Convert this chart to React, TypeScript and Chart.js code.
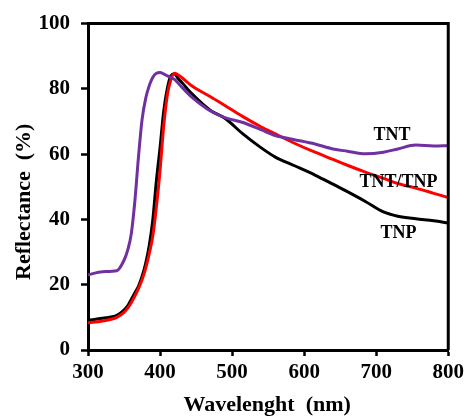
import { useEffect, useRef } from "react";
import { Chart, registerables } from "chart.js";

Chart.register(...registerables);

const wavelengths = [300, 320, 340, 350, 355, 360, 365, 370, 375, 380, 385, 390, 395, 400, 405, 410, 415, 420, 425, 430, 445, 470, 490, 515, 540, 560, 585, 615, 640, 660, 685, 710, 730, 755, 780, 800];

const tntValues = [23.0, 24.0, 24.3, 27.5, 30.5, 35.5, 45.5, 59.0, 70.5, 77.0, 81.0, 83.6, 84.8, 85.0, 84.6, 84.0, 83.5, 82.9, 81.8, 80.6, 77.3, 73.2, 71.2, 69.7, 67.5, 65.7, 64.5, 63.1, 61.6, 60.9, 60.1, 60.6, 61.6, 62.8, 62.5, 62.6];

const tnpValues = [9.1, 9.7, 10.6, 12.2, 13.5, 15.5, 17.5, 19.5, 22.5, 26.5, 32.0, 40.0, 52.0, 62.0, 73.0, 80.0, 84.0, 84.6, 83.2, 82.0, 78.3, 73.4, 71.0, 66.2, 62.0, 59.1, 56.6, 53.6, 50.8, 48.5, 45.5, 42.3, 41.0, 40.2, 39.6, 38.9];

const tntTnpValues = [8.3, 8.9, 10.0, 11.5, 12.8, 14.5, 16.5, 18.8, 21.5, 25.0, 29.5, 35.0, 44.0, 55.0, 68.5, 78.0, 82.8, 84.8, 84.3, 83.5, 80.8, 77.6, 74.9, 71.5, 68.4, 66.2, 63.5, 60.6, 58.4, 56.6, 54.5, 52.6, 51.0, 49.6, 48.0, 46.7];

const seriesNames = ["TNT", "TNT/TNP", "TNP"];
const seriesColors = ["#7030A0", "#FF0000", "#000000"];
const labelXs = [722, 731, 731];
const labelYs = [65.8, 51.5, 35.8];

const xTitle = "Wavelenght  (nm)";
const yTitle = "Reflectance  (%)";

const SERIF = '"Liberation Serif", "Times New Roman", serif';

export default function App() {
  const canvasRef = useRef<HTMLCanvasElement | null>(null);

  useEffect(() => {
    const canvas = canvasRef.current;
    if (!canvas) return;

    const overlay = {
      id: "overlay",
      afterDraw(chart: any) {
        const ctx = chart.ctx;
        const { left, right, top, bottom } = chart.chartArea;
        ctx.save();
        ctx.strokeStyle = "#000";
        ctx.lineWidth = 3;
        ctx.beginPath();
        ctx.moveTo(left, top);
        ctx.lineTo(right, top);
        ctx.lineTo(right, bottom);
        ctx.stroke();

        const xs = chart.scales.x;
        const ys = chart.scales.y;
        ctx.fillStyle = "#000";
        ctx.font = `bold 18px ${SERIF}`;
        ctx.textAlign = "center";
        ctx.textBaseline = "middle";
        for (let i = 0; i < seriesNames.length; i++) {
          ctx.fillText(seriesNames[i], xs.getPixelForValue(labelXs[i]), ys.getPixelForValue(labelYs[i]));
        }

        ctx.font = `bold 22px ${SERIF}`;
        ctx.fillText(xTitle, (left + right) / 2 - 1, 405);
        ctx.translate(24, (top + bottom) / 2 + 15);
        ctx.rotate(-Math.PI / 2);
        ctx.fillText(yTitle, 0, 0);
        ctx.restore();
      },
    };

    const mkSet = (i: number, values: number[]) => ({
      label: seriesNames[i],
      data: wavelengths.map((w, k) => ({ x: w, y: values[k] })),
      borderColor: seriesColors[i],
      borderWidth: 3,
      pointRadius: 0,
      cubicInterpolationMode: "monotone",
    });

    const chart = new Chart(canvas, {
      type: "line",
      data: {
        datasets: [mkSet(0, tntValues), mkSet(1, tntTnpValues), mkSet(2, tnpValues)],
      },
      options: {
        animation: false,
        responsive: true,
        maintainAspectRatio: false,
        layout: { padding: { top: 21, right: 18, left: 0, bottom: 0 } },
        plugins: {
          legend: { display: false },
          tooltip: { enabled: false },
          title: { display: false },
        },
        scales: {
          x: {
            type: "linear",
            min: 300,
            max: 800,
            afterFit(scale: any) {
              scale.height = 66;
            },
            ticks: {
              stepSize: 100,
              padding: 4,
              color: "#000",
              font: { family: SERIF, size: 21, weight: "bold" },
            },
            grid: {
              display: true,
              drawOnChartArea: false,
              drawTicks: true,
              tickLength: 6,
              tickWidth: 2.5,
              tickColor: "#000",
            },
            border: { display: true, color: "#000", width: 3 },
            title: { display: false },
          },
          y: {
            type: "linear",
            min: 0,
            max: 100,
            afterFit(scale: any) {
              scale.width = 88;
            },
            ticks: {
              stepSize: 20,
              padding: 11,
              color: "#000",
              font: { family: SERIF, size: 21, weight: "bold" },
            },
            grid: {
              display: true,
              drawOnChartArea: false,
              drawTicks: true,
              tickLength: 7,
              tickWidth: 2.5,
              tickColor: "#000",
            },
            border: { display: true, color: "#000", width: 3 },
            title: { display: false },
          },
        },
      },
      plugins: [overlay],
    } as any);

    return () => chart.destroy();
  }, []);

  return (
    <div style={{ position: "absolute", left: 0, top: 0, width: 468, height: 416, background: "#fff" }}>
      <canvas ref={canvasRef} />
    </div>
  );
}
